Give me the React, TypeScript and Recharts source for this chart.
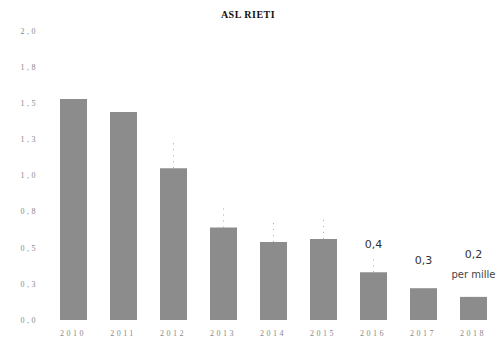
import React from "react";
import { BarChart, Bar, XAxis, YAxis, LabelList, ErrorBar } from "recharts";

const years = ["2010", "2011", "2012", "2013", "2014", "2015", "2016", "2017", "2018"];
const rates = [1.53, 1.44, 1.05, 0.64, 0.54, 0.56, 0.33, 0.22, 0.16];
const spreads = [0, 0, 0.2, 0.15, 0.15, 0.15, 0.1, 0, 0];
const notes = ["", "", "", "", "", "", "0,4", "0,3", "0,2"];
const noteUnits = ["", "", "", "", "", "", "", "", "per mille"];
const yTicks = [0, 0.25, 0.5, 0.75, 1, 1.25, 1.5, 1.75, 2];
const yTickLabels = ["0,0", "0,3", "0,5", "0,8", "1,0", "1,3", "1,5", "1,8", "2,0"];
const title = "ASL RIETI";

const data = years.map((y, i) => ({
  year: y,
  rate: rates[i],
  err: [0, spreads[i]],
  note: notes[i],
  unit: noteUnits[i],
}));

const NoteLabel = (props: any) => {
  const { x, y, width, index } = props;
  const note = notes[index];
  const unit = noteUnits[index];
  if (!note) return null;
  const cx = x + width / 2;
  if (unit) {
    return (
      <g>
        <text x={cx} y={y - 42} textAnchor="middle" dominantBaseline="middle" fontSize={11} fill="#333" fontFamily="DejaVu Sans">
          {note}
        </text>
        <text x={cx} y={y - 22} textAnchor="middle" dominantBaseline="middle" fontSize={10} fill="#444" fontFamily="DejaVu Sans">
          {unit}
        </text>
      </g>
    );
  }
  return (
    <text x={cx} y={y - 27} textAnchor="middle" dominantBaseline="middle" fontSize={11} fill="#333" fontFamily="DejaVu Sans">
      {note}
    </text>
  );
};

export default function App() {
  return (
    <div style={{ position: "absolute", left: 0, top: 0, width: 504, height: 345, background: "#fff" }}>
      <div
        style={{
          position: "absolute",
          left: 0,
          top: 9,
          width: 496,
          textAlign: "center",
          fontFamily: "Liberation Serif",
          fontWeight: "bold",
          fontSize: 10,
          color: "#111",
          letterSpacing: 0.5,
        }}
      >
        {title}
      </div>
      <BarChart width={504} height={345} data={data} margin={{ top: 31, right: 6, bottom: 0, left: 0 }} barSize={27}>
        <XAxis
          dataKey="year"
          axisLine={false}
          tickLine={false}
          tickSize={0}
          tickMargin={10}
          height={25}
          interval={0}
          tick={{ fontSize: 8, fill: "#888", fontFamily: "Liberation Serif", letterSpacing: 2.5 }}
        />
        <YAxis
          domain={[0, 2]}
          ticks={yTicks}
          tickFormatter={(v: number) => yTickLabels[yTicks.indexOf(v)]}
          axisLine={false}
          tickLine={false}
          tickSize={0}
          tickMargin={10}
          width={48}
          interval={0}
          tick={{ fontSize: 8, fill: "#888", fontFamily: "Liberation Serif", letterSpacing: 2.5 }}
        />
        <Bar dataKey="rate" fill="#8c8c8c" isAnimationActive={false}>
          <ErrorBar dataKey="err" width={0} stroke="#aaa" strokeWidth={1} strokeDasharray="1 5" direction="y" />
          <LabelList dataKey="note" content={NoteLabel} />
        </Bar>
      </BarChart>
    </div>
  );
}
